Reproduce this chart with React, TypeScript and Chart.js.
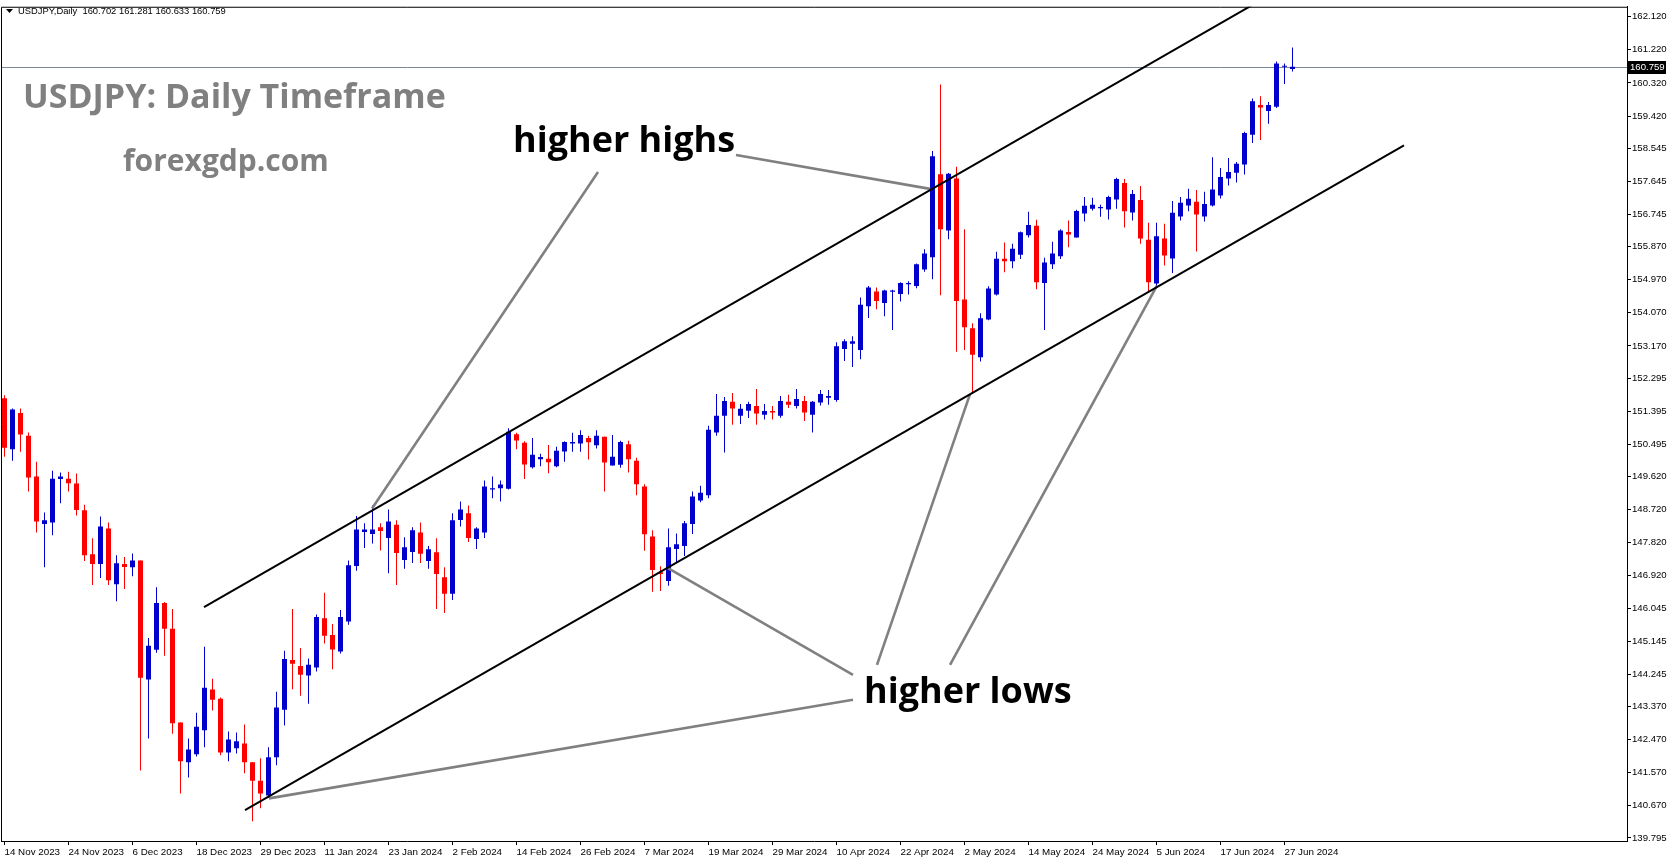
import React, { useEffect, useRef } from "react";
import { Chart, registerables } from "chart.js";

Chart.register(...registerables);

// ---- tick labels ----
const dateTickIndex = [0, 8, 16, 24, 32, 40, 48, 56, 64, 72, 80, 88, 96, 104, 112, 120, 128, 136, 144, 152, 160];
const dateTickLabels = [
  "14 Nov 2023", "24 Nov 2023", "6 Dec 2023", "18 Dec 2023", "29 Dec 2023", "11 Jan 2024",
  "23 Jan 2024", "2 Feb 2024", "14 Feb 2024", "26 Feb 2024", "7 Mar 2024", "19 Mar 2024",
  "29 Mar 2024", "10 Apr 2024", "22 Apr 2024", "2 May 2024", "14 May 2024", "24 May 2024",
  "5 Jun 2024", "17 Jun 2024", "27 Jun 2024",
];
const priceTicks = [
  162.12, 161.22, 160.32, 159.42, 158.545, 157.645, 156.745, 155.87, 154.97, 154.07, 153.17,
  152.295, 151.395, 150.495, 149.62, 148.72, 147.82, 146.92, 146.045, 145.145, 144.245, 143.37,
  142.47, 141.57, 140.67, 139.795,
];

// ---- candles (daily bars, index 0 = 14 Nov 2023) ----
const opens = [
  151.75, 150.36, 151.35, 150.73, 149.62, 148.33, 148.37, 149.55, 149.56, 149.43,
  148.70, 147.51, 147.24, 148.21, 146.69, 147.24, 147.15, 147.34, 144.10, 144.91,
  146.18, 145.48, 142.93, 141.85, 142.07, 142.72, 143.83, 143.58, 142.12, 142.23,
  142.36, 141.85, 141.35, 140.95, 141.99, 143.28, 144.63, 144.47, 144.21, 144.43,
  145.77, 145.31, 144.86, 145.68, 147.19, 148.11, 148.06, 148.24, 147.95, 148.31,
  147.35, 147.57, 148.10, 147.32, 147.56, 146.88, 146.43, 148.44, 148.62, 147.92,
  148.10, 149.27, 149.30, 149.29, 150.77, 150.54, 149.87, 150.09, 150.10, 149.90,
  150.30, 150.52, 150.52, 150.67, 150.47, 150.70, 149.92, 149.94, 150.50, 150.05,
  149.35, 147.99, 147.02, 146.78, 147.65, 147.73, 148.33, 148.97, 149.11, 150.82,
  151.27, 151.65, 151.27, 151.41, 151.54, 151.30, 151.40, 151.27, 151.65, 151.54,
  151.67, 151.30, 151.63, 151.76, 151.70, 153.09, 153.23, 153.06, 154.25, 154.65,
  154.34, 154.64, 154.58, 154.85, 154.80, 155.25, 155.58, 157.84, 156.31, 157.72,
  154.43, 153.65, 152.86, 153.89, 154.57, 155.54, 155.47, 155.65, 156.18, 156.44,
  154.88, 155.39, 155.61, 156.27, 156.12, 156.77, 156.90, 156.91, 156.88, 157.15,
  157.60, 156.80, 157.14, 156.06, 154.87, 156.09, 155.55, 156.69, 156.99, 157.09,
  156.69, 156.99, 157.26, 157.72, 157.88, 158.10, 158.91, 159.72, 159.56, 159.67,
  160.76, 160.702,
];
const highs = [
  151.83, 151.47, 151.47, 150.82, 150.02, 148.64, 149.78, 149.73, 149.75, 149.70,
  148.85, 147.94, 148.53, 148.37, 147.48, 147.43, 147.53, 147.34, 145.23, 146.61,
  146.21, 146.02, 142.93, 142.50, 143.20, 144.99, 144.12, 143.61, 142.69, 142.66,
  142.88, 141.85, 141.96, 142.26, 143.77, 144.88, 146.02, 144.96, 144.67, 145.87,
  146.46, 145.61, 145.99, 147.34, 148.55, 148.35, 148.83, 148.35, 148.72, 148.43,
  147.97, 148.24, 148.37, 147.73, 147.94, 147.15, 148.62, 148.94, 148.83, 148.24,
  149.51, 149.62, 149.51, 150.93, 150.81, 150.58, 150.67, 150.24, 150.48, 150.43,
  150.58, 150.81, 150.88, 150.73, 150.88, 150.70, 150.75, 150.59, 150.59, 150.13,
  149.41, 148.16, 147.18, 148.21, 148.07, 148.41, 149.21, 149.37, 151.00, 151.86,
  151.78, 151.89, 151.59, 151.65, 152.00, 151.59, 151.54, 151.81, 151.84, 152.00,
  151.81, 151.67, 151.97, 151.97, 153.27, 153.35, 153.43, 154.49, 154.80, 154.76,
  154.70, 154.70, 154.90, 154.93, 155.41, 155.80, 158.47, 160.28, 157.87, 158.04,
  156.34, 153.79, 154.06, 154.79, 155.73, 155.98, 155.95, 156.28, 156.82, 156.60,
  155.57, 156.00, 156.34, 156.58, 156.87, 157.22, 157.20, 157.01, 157.25, 157.74,
  157.71, 157.41, 157.52, 156.52, 156.52, 156.49, 157.11, 157.22, 157.44, 157.41,
  157.36, 158.30, 158.01, 158.28, 158.17, 158.99, 159.90, 159.96, 159.80, 160.90,
  160.85, 161.281,
];
const lows = [
  150.16, 150.05, 150.29, 149.21, 148.10, 147.15, 148.02, 148.89, 149.21, 148.56,
  147.32, 146.67, 146.86, 146.67, 146.23, 146.56, 146.91, 141.63, 142.50, 144.83,
  144.75, 142.63, 141.00, 141.44, 142.01, 142.26, 143.26, 142.04, 141.88, 142.09,
  141.55, 140.25, 140.60, 140.88, 141.77, 142.85, 143.84, 143.66, 143.44, 144.32,
  145.08, 144.38, 144.81, 145.59, 147.06, 147.68, 147.80, 147.61, 146.99, 146.67,
  147.11, 147.27, 147.27, 147.11, 146.02, 145.91, 146.26, 148.26, 147.84, 147.65,
  147.95, 149.03, 148.94, 149.27, 150.36, 149.55, 149.84, 149.90, 149.71, 149.87,
  150.02, 150.29, 150.29, 150.08, 150.38, 149.21, 149.92, 149.86, 149.73, 149.11,
  147.60, 146.49, 146.51, 146.65, 147.27, 147.46, 148.06, 148.92, 149.03, 150.73,
  150.27, 151.03, 151.05, 151.21, 151.03, 151.17, 151.17, 151.22, 151.48, 151.47,
  151.13, 150.82, 151.55, 151.57, 151.65, 152.76, 152.60, 152.81, 153.93, 154.17,
  153.98, 153.60, 154.38, 154.57, 154.74, 155.19, 154.98, 154.55, 156.07, 153.01,
  153.06, 151.86, 152.75, 153.87, 154.54, 155.17, 155.28, 155.53, 156.12, 154.71,
  153.60, 155.26, 155.53, 155.85, 156.12, 156.55, 156.85, 156.68, 156.61, 156.90,
  156.39, 156.58, 155.95, 154.61, 154.80, 155.36, 155.15, 156.58, 156.83, 155.74,
  156.55, 156.96, 157.18, 157.53, 157.61, 157.83, 158.69, 158.77, 159.21, 159.64,
  160.29, 160.633,
];
const closes = [
  150.40, 151.44, 150.76, 149.59, 148.40, 148.43, 149.56, 149.62, 149.44, 148.71,
  147.48, 147.24, 148.26, 146.80, 147.26, 147.16, 147.34, 144.15, 145.02, 146.18,
  145.48, 142.91, 141.88, 142.20, 142.82, 143.88, 143.55, 142.12, 142.47, 142.42,
  141.85, 141.35, 141.00, 141.99, 143.34, 144.66, 144.53, 144.23, 144.50, 145.80,
  145.29, 144.92, 145.80, 147.21, 148.18, 148.18, 148.18, 148.14, 148.40, 147.54,
  147.70, 148.16, 147.52, 147.64, 146.97, 146.43, 148.43, 148.72, 147.95, 148.21,
  149.35, 149.30, 149.40, 150.84, 150.60, 149.95, 150.21, 150.15, 150.01, 150.32,
  150.56, 150.56, 150.75, 150.55, 150.73, 150.00, 150.16, 150.56, 150.09, 149.41,
  148.05, 147.08, 146.97, 147.70, 147.78, 148.35, 149.08, 149.18, 150.89, 151.27,
  151.67, 151.47, 151.46, 151.59, 151.33, 151.40, 151.36, 151.67, 151.57, 151.73,
  151.36, 151.65, 151.86, 151.81, 153.16, 153.30, 153.30, 154.29, 154.76, 154.39,
  154.68, 154.68, 154.88, 154.88, 155.39, 155.68, 158.33, 156.34, 157.85, 154.39,
  153.68, 152.93, 153.92, 154.73, 155.54, 155.47, 155.81, 156.26, 156.46, 154.90,
  155.44, 155.68, 156.31, 156.20, 156.84, 156.98, 157.01, 156.95, 157.22, 157.71,
  156.83, 157.30, 156.09, 154.90, 156.15, 155.63, 156.79, 157.06, 157.17, 156.74,
  157.03, 157.42, 157.76, 157.90, 158.12, 158.96, 159.82, 159.65, 159.72, 160.85,
  160.79, 160.759,
];
const lastPrice = 160.759;
const headerText = "USDJPY,Daily  160.702 161.281 160.633 160.759";

// ---- drawn trend lines, in (bar index, price) ----
const upperChannel = [[24.94, 146.07], [160, 162.94]];
const lowerChannel = [[30.06, 140.55], [174.94, 158.62]];
const pointerLines = [
  [[45.94, 148.75], [74.19, 157.9]],
  [[91.44, 158.36], [115.69, 157.44]],
  [[106.06, 143.55], [33.06, 140.87]],
  [[82.94, 147.13], [106.06, 144.23]],
  [[120.69, 151.86], [109.06, 144.5]],
  [[144.06, 154.81], [118.19, 144.5]],
];

const BLUE = "#0000CD";
const RED = "#FF0000";
const AXIS_FONT = '"Liberation Sans", Arial, sans-serif';
const BIG_FONT = '"Open Sans", "Noto Sans", sans-serif';

const overlayPlugin = {
  id: "overlay",
  beforeDatasetsDraw(chart: any) {
    const { ctx, chartArea: a, scales } = chart;
    const py = Math.round(scales.y.getPixelForValue(lastPrice)) + 0.5;
    ctx.save();
    ctx.strokeStyle = "#778899";
    ctx.lineWidth = 1;
    ctx.beginPath();
    ctx.moveTo(a.left, py);
    ctx.lineTo(a.right, py);
    ctx.stroke();
    ctx.restore();
  },
  afterDatasetsDraw(chart: any) {
    const { ctx, chartArea: a, scales } = chart;
    const X = (v: number) => scales.x.getPixelForValue(v);
    const Y = (v: number) => scales.y.getPixelForValue(v);
    ctx.save();
    ctx.beginPath();
    ctx.rect(a.left, a.top, a.right - a.left, a.bottom - a.top);
    ctx.clip();
    // pointer lines
    ctx.strokeStyle = "#808080";
    ctx.lineWidth = 2.6;
    ctx.lineCap = "butt";
    for (const [p, q] of pointerLines) {
      ctx.beginPath();
      ctx.moveTo(X(p[0]), Y(p[1]));
      ctx.lineTo(X(q[0]), Y(q[1]));
      ctx.stroke();
    }
    // channel lines
    ctx.strokeStyle = "#000000";
    ctx.lineWidth = 2;
    for (const ln of [upperChannel, lowerChannel]) {
      ctx.beginPath();
      ctx.moveTo(X(ln[0][0]), Y(ln[0][1]));
      ctx.lineTo(X(ln[1][0]), Y(ln[1][1]));
      ctx.stroke();
    }
    // texts
    ctx.textBaseline = "middle";
    ctx.textAlign = "left";
    ctx.fillStyle = "#808080";
    ctx.font = `bold 34px ${BIG_FONT}`;
    ctx.fillText("USDJPY: Daily Timeframe", 23, 98);
    ctx.font = `bold 30px ${BIG_FONT}`;
    ctx.fillText("forexgdp.com", 123, 162);
    ctx.fillStyle = "#000000";
    ctx.font = `bold 36px ${BIG_FONT}`;
    ctx.fillText("higher highs", 513, 142);
    ctx.fillText("higher lows", 864, 693);
    ctx.restore();
  },
  afterDraw(chart: any) {
    const { ctx, chartArea: a, scales } = chart;
    ctx.save();
    // left & top border
    ctx.strokeStyle = "#000";
    ctx.lineWidth = 1;
    ctx.beginPath();
    ctx.moveTo(a.left + 0.5, a.bottom);
    ctx.lineTo(a.left + 0.5, a.top + 0.5);
    ctx.lineTo(a.right, a.top + 0.5);
    ctx.stroke();
    // header
    ctx.fillStyle = "#000";
    ctx.beginPath();
    ctx.moveTo(6, 9);
    ctx.lineTo(13, 9);
    ctx.lineTo(9.5, 13);
    ctx.closePath();
    ctx.fill();
    ctx.font = `9.4px ${AXIS_FONT}`;
    ctx.textBaseline = "middle";
    ctx.textAlign = "left";
    ctx.fillText(headerText, 18, 11);
    // last price box
    const py = Math.round(scales.y.getPixelForValue(lastPrice));
    ctx.fillStyle = "#000";
    ctx.fillRect(a.right + 1, py - 6, 38, 13);
    ctx.fillStyle = "#fff";
    ctx.font = `9.6px ${AXIS_FONT}`;
    ctx.fillText(lastPrice.toFixed(3), a.right + 3, py + 0.5);
    ctx.restore();
  },
};

export default function App() {
  const ref = useRef<HTMLCanvasElement | null>(null);
  useEffect(() => {
    if (!ref.current) return;
    const colors = opens.map((o, i) => (closes[i] >= o ? BLUE : RED));
    const bodies = opens.map((o, i) => ({ x: i, y: [o, closes[i]] }));
    const wicks = lows.map((l, i) => ({ x: i, y: [l, highs[i]] }));
    const pxPerBar = 8;
    const plotW = 1626;
    const xMin = -3.5 / pxPerBar;
    const xMax = xMin + plotW / pxPerBar;
    const pxPerYen = 36.95;
    const plotH = 838;
    const yMax = 162.12 + 10 / pxPerYen;
    const yMin = yMax - plotH / pxPerYen;
    const chart = new Chart(ref.current, {
      type: "bar",
      data: {
        datasets: [
          {
            data: wicks as any,
            backgroundColor: colors,
            maxBarThickness: 1,
            grouped: false,
            inflateAmount: 0,
            borderWidth: 0,
          } as any,
          {
            data: bodies as any,
            backgroundColor: colors,
            maxBarThickness: 5,
            grouped: false,
            minBarLength: 1,
            inflateAmount: 0,
            borderWidth: 0,
          } as any,
        ],
      },
      options: {
        animation: false,
        responsive: false,
        devicePixelRatio: 1,
        events: [],
        layout: { padding: { left: 1, top: 3, right: 0, bottom: 0 } },
        plugins: { legend: { display: false }, tooltip: { enabled: false } },
        scales: {
          x: {
            type: "linear",
            position: "bottom",
            min: xMin,
            max: xMax,
            offset: false,
            afterBuildTicks: (s: any) => {
              s.ticks = dateTickIndex.map((v) => ({ value: v }));
            },
            afterFit: (s: any) => {
              s.height = 20;
            },
            ticks: {
              autoSkip: false,
              maxRotation: 0,
              minRotation: 0,
              align: "start",
              padding: 1,
              color: "#000",
              font: { family: AXIS_FONT, size: 9.8 },
              callback: (_v: any, i: number) => dateTickLabels[i],
            },
            grid: { drawOnChartArea: false, drawTicks: true, tickLength: 4, color: "#000", offset: false },
            border: { display: true, color: "#000", width: 1 },
          } as any,
          y: {
            type: "linear",
            position: "right",
            min: yMin,
            max: yMax,
            afterBuildTicks: (s: any) => {
              s.ticks = priceTicks.map((v) => ({ value: v }));
            },
            afterFit: (s: any) => {
              s.width = 46;
            },
            ticks: {
              autoSkip: false,
              crossAlign: "near",
              padding: 1,
              color: "#000",
              font: { family: AXIS_FONT, size: 9.6 },
              callback: (v: any) => Number(v).toFixed(3),
            },
            grid: { drawOnChartArea: false, drawTicks: true, tickLength: 4, color: "#000" },
            border: { display: true, color: "#000", width: 1 },
          } as any,
        },
      },
      plugins: [overlayPlugin],
    });
    return () => chart.destroy();
  }, []);
  return (
    <div style={{ position: "fixed", left: 0, top: 0, width: 1673, height: 861, background: "#fff" }}>
      <canvas ref={ref} width={1673} height={861} style={{ display: "block" }} />
    </div>
  );
}
